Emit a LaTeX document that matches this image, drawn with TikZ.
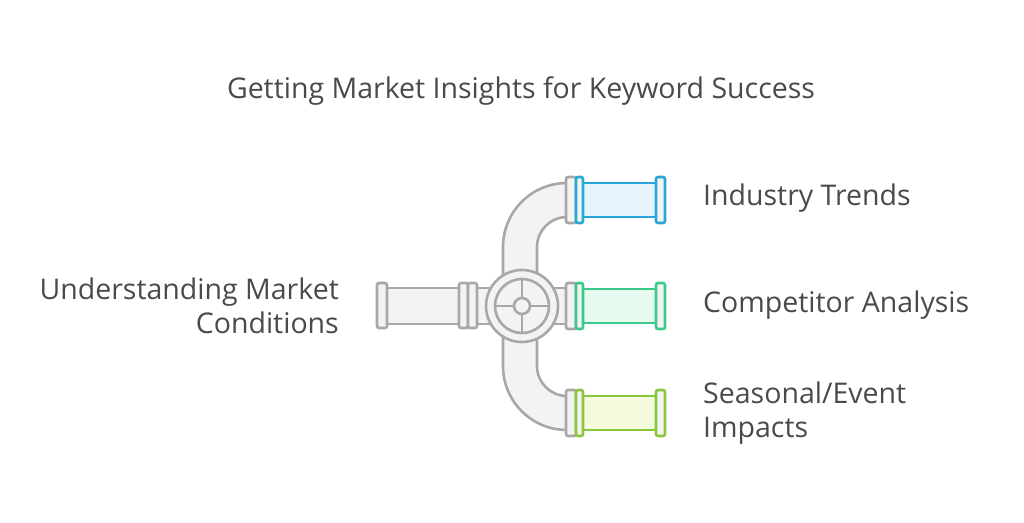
\documentclass[tikz,border=0pt]{standalone}
\usepackage{fontspec}
\setmainfont{Open Sans}
\definecolor{txt}{HTML}{4A4A4A}
\definecolor{pipegray}{HTML}{A8A8A8}
\definecolor{pipefill}{HTML}{F3F3F3}
\definecolor{blueline}{HTML}{29A8D8}
\definecolor{bluefill}{HTML}{E6F5FC}
\definecolor{greenline}{HTML}{3DC98A}
\definecolor{greenfill}{HTML}{E6FAF0}
\definecolor{limeline}{HTML}{8CC63F}
\definecolor{limefill}{HTML}{F3FBDC}
\tikzset{
  pipe/.style={draw=pipegray, fill=pipefill, line width=2.6pt, line join=round},
  flange/.style={pipe, rounded corners=2pt},
  label/.style={text=txt, font=\fontsize{28.5}{34}\selectfont, align=left, inner sep=0pt}
}
\begin{document}
\begin{tikzpicture}[x=1pt,y=-1pt]
  \useasboundingbox (0,0) rectangle (1024,522);
  % title
  \node[label, align=center] (title) at (521,91) {Getting Market Insights for Keyword Success};
  % bends
  \draw[pipe] (503,310) -- (503,247) arc (180:270:64) -- (567,217) arc (270:180:30) -- (537,310) -- cycle;
  \draw[pipe] (503,300) -- (503,366) arc (180:90:64) -- (567,396) arc (90:180:30) -- (537,300) -- cycle;
  % input pipe
  \draw[pipe] (385,288) rectangle (462,324);
  \draw[pipe] (474,288) rectangle (500,324);
  \draw[flange] (377,283) rectangle (387,328);
  \draw[flange] (459,283) rectangle (468,328);
  \draw[flange] (468,283) rectangle (477,328);
  \draw[pipe] (545,288) rectangle (568,324);
  % valve
  \draw[pipe] (522,306) circle (36);
  \draw[pipe] (522,306) circle (27);
  \draw[pipegray, line width=2.6pt] (495,306) -- (549,306) (522,279) -- (522,333);
  \draw[pipe] (522,306) circle (8);
  % outputs
  \foreach \y/\c in {200/blue, 306/green, 413/lime}
  {
    \draw[flange] (566,\y-23) rectangle (576,\y+23);
    \draw[draw=\c line, fill=\c fill, line width=2.6pt] (583,\y-17) rectangle (657,\y+17);
    \draw[flange, draw=\c line] (576,\y-23) rectangle (583,\y+23);
    \draw[flange, draw=\c line] (656,\y-23) rectangle (665,\y+23);
  }
  % labels
  \node[label, anchor=west] (trends) at (703,198) {Industry Trends};
  \node[label, anchor=west] (competitor) at (703,305) {Competitor Analysis};
  \node[label, anchor=west, text width=260pt] (seasonal) at (703,413) {Seasonal/Event\\Impacts};
  \node[label, anchor=east, align=right] (conditions) at (339,306) {Understanding Market\\Conditions};
\end{tikzpicture}
\end{document}
